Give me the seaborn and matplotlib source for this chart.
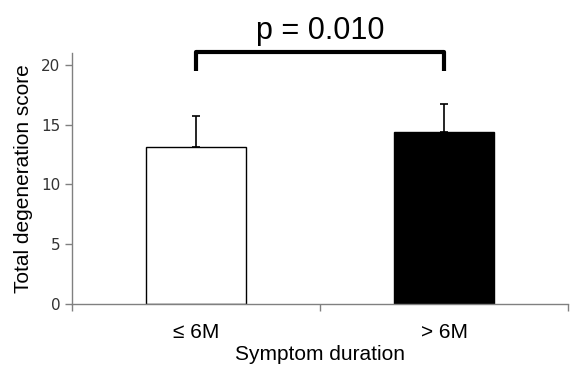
import matplotlib
matplotlib.use("Agg")
import matplotlib.pyplot as plt
import pandas as pd
import seaborn as sns

groups = ["≤ 6M", "> 6M"]
means = [13.1, 14.4]
sd_upper = [2.6, 2.3]
bar_colors = ["white", "black"]
p_label = "p = 0.010"

sns.set_style("white")
plt.rcParams["font.family"] = ["Liberation Sans", "DejaVu Sans"]
plt.rcParams["text.color"] = "black"
plt.rcParams["axes.labelcolor"] = "black"

df = pd.DataFrame({"group": groups, "score": means})

fig = plt.figure(figsize=(5.7, 3.75), dpi=100)
ax = fig.add_axes([0.1263, 0.1893, 0.8702, 0.6694])

sns.barplot(data=df, x="group", y="score", hue="group", palette=bar_colors,
            width=0.4, edgecolor="black", linewidth=1.0, legend=False, ax=ax)

# upper-only error bars
ax.errorbar(range(len(groups)), means, yerr=[[0, 0], sd_upper], fmt="none",
            ecolor="black", elinewidth=1.2, capsize=3, capthick=1.2)

ax.set_xlim(-0.5, 1.5)
ax.set_ylim(0, 21)
ax.set_yticks([0, 5, 10, 15, 20])

for side in ["top", "right"]:
    ax.spines[side].set_visible(False)
for side in ["left", "bottom"]:
    ax.spines[side].set_color("#808080")
    ax.spines[side].set_linewidth(1.0)

ax.set_xticks([-0.5, 0.5, 1.5], minor=True)
ax.tick_params(axis="x", which="major", length=0, pad=14, labelsize=15,
               labelcolor="black")
ax.tick_params(axis="x", which="minor", bottom=True, length=5, width=1,
               color="#808080", direction="out")
ax.tick_params(axis="y", length=5, width=1, color="#808080", direction="out",
               labelsize=11, labelcolor="#333333", left=True)
for lab in ax.get_yticklabels():
    lab.set_family(["DejaVu Sans"])

ax.set_xlabel("Symptom duration", fontsize=15, labelpad=2)
ax.set_ylabel("Total degeneration score", fontsize=15, labelpad=6)

# significance bracket
ax.plot([0, 0, 1, 1], [19.5, 21.1, 21.1, 19.5], color="black", lw=3,
        clip_on=False, solid_capstyle="butt")
ax.text(0.5, 22.2, p_label, ha="center", va="baseline", fontsize=22)

fig.savefig("out.png", dpi=100)
